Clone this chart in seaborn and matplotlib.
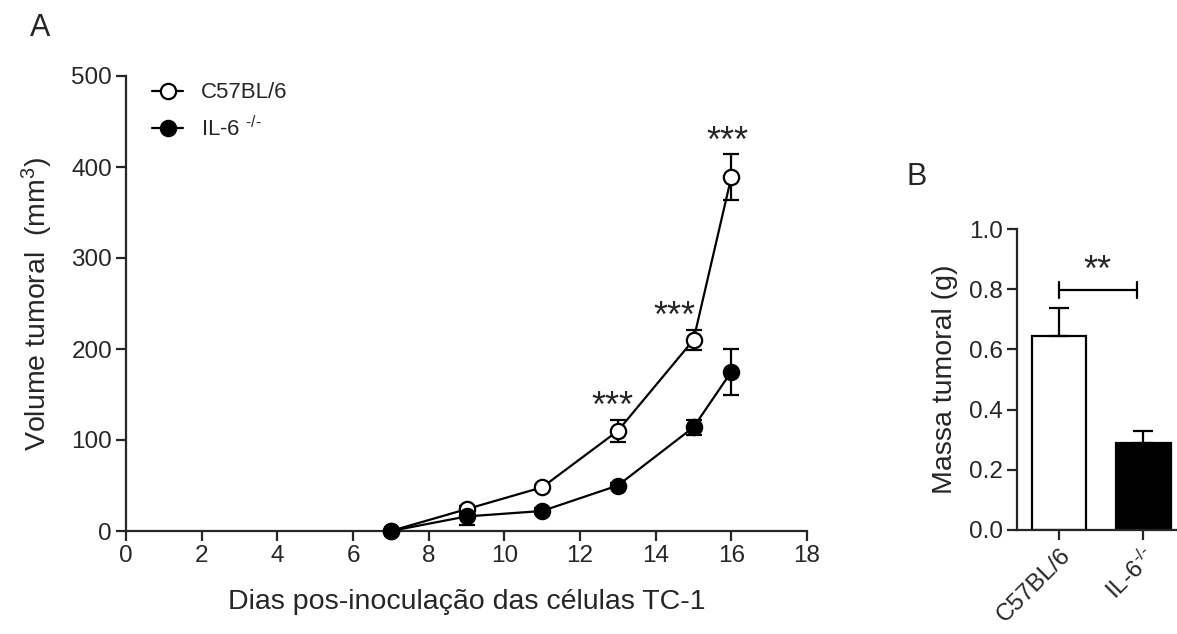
import numpy as np
import matplotlib
matplotlib.use("Agg")
import matplotlib.pyplot as plt
import seaborn as sns
import pandas as pd

# Tumour growth (panel A)
days = [7, 9, 11, 13, 15, 16]
vol_wt = [0, 24, 48, 110, 210, 389]
err_wt = [0, 4, 3, 12, 11, 25]
vol_ko = [0, 16, 22, 50, 114, 175]
err_ko = [0, 9, 3, 3, 8, 25]
sig_days = [13, 15, 16]
sig_labels = ["***", "***", "***"]

# Tumour mass (panel B)
groups = ["C57BL/6", r"IL-6$^{\text{-/-}}$"]
mass = [0.643, 0.288]
mass_err = [0.095, 0.04]

sns.set_style("ticks")
plt.rcParams["font.family"] = ["Liberation Sans", "DejaVu Sans"]
plt.rcParams["mathtext.fontset"] = "custom"
plt.rcParams["mathtext.rm"] = "Liberation Sans"
plt.rcParams["mathtext.it"] = "Liberation Sans"
plt.rcParams["axes.linewidth"] = 1.6
plt.rcParams["xtick.major.width"] = 1.6
plt.rcParams["ytick.major.width"] = 1.6
plt.rcParams["xtick.major.size"] = 7
plt.rcParams["ytick.major.size"] = 7

fig = plt.figure(figsize=(11.77, 6.34), dpi=100)
axA = fig.add_axes([126 / 1177, 1 - 531 / 634, (807 - 126) / 1177, (531 - 76) / 634])
axB = fig.add_axes([1017 / 1177, 1 - 530 / 634, (1177 - 1017) / 1177, (530 - 229) / 634])

ko_name = r"IL-6 $^{\text{-/-}}$"
df = pd.DataFrame({
    "dia": days * 2,
    "volume": vol_wt + vol_ko,
    "grupo": ["C57BL/6"] * len(days) + [ko_name] * len(days),
})

for name, vals, errs, face in [("C57BL/6", vol_wt, err_wt, "white"),
                               (ko_name, vol_ko, err_ko, "black")]:
    axA.errorbar(days, vals, yerr=errs, fmt="none", ecolor="black",
                 elinewidth=1.6, capsize=6, capthick=1.6, zorder=2, clip_on=False)
    sns.lineplot(data=df[df["grupo"] == name], x="dia", y="volume", ax=axA,
                 color="black", linewidth=1.6, marker="o", markersize=11,
                 markerfacecolor=face, markeredgecolor="black", markeredgewidth=1.6,
                 label=name, zorder=3, clip_on=False)

# stars sit slightly left of each point, as in the original
star_dx = [-0.15, -0.5, -0.1]
for d, lab, dx in zip(sig_days, sig_labels, star_dx):
    i = days.index(d)
    top = vol_wt[i] + err_wt[i]
    axA.text(d + dx, top + 3, lab, ha="center", va="baseline", fontsize=26)

axA.set_xlim(0, 18)
axA.set_ylim(0, 500)
axA.set_xticks(range(0, 19, 2))
axA.set_yticks(range(0, 501, 100))
axA.tick_params(labelsize=17.5, pad=3)
axA.set_xlabel("Dias pos-inoculação das células TC-1", fontsize=20.5, labelpad=16)
axA.set_ylabel("Volume tumoral  (mm$^3$)", fontsize=20.5, labelpad=12)
sns.despine(ax=axA)
axA.legend(loc="upper left", bbox_to_anchor=(0.009, 1.03), frameon=False,
           fontsize=16, handlelength=1.4, handletextpad=0.8, labelspacing=0.55)

# panel B
dfB = pd.DataFrame({"grupo": groups, "massa": mass})
sns.barplot(data=dfB, x="grupo", y="massa", ax=axB, palette=["white", "black"],
            hue="grupo", legend=False, edgecolor="black", linewidth=1.6, width=0.65)
axB.errorbar([0, 1], mass, yerr=[[0, 0], mass_err], fmt="none", ecolor="black",
             elinewidth=1.6, capsize=7, capthick=1.6)
axB.set_xlim(-0.5, 1.4)
axB.set_ylim(0, 1.0)
axB.set_yticks(np.arange(0, 1.01, 0.2))
axB.set_yticklabels([f"{v:.1f}" for v in np.arange(0, 1.01, 0.2)])
axB.tick_params(labelsize=17.5, pad=3)
axB.set_xticks([0, 1])
axB.set_xticklabels(groups, rotation=45, ha="right", rotation_mode="anchor")
axB.set_xlabel("")
axB.set_ylabel("Massa tumoral (g)", fontsize=20.5, labelpad=8)
sns.despine(ax=axB)
axB.plot([0, 0.92], [0.797, 0.797], color="black", lw=1.6)
axB.plot([0, 0], [0.77, 0.825], color="black", lw=1.6)
axB.plot([0.92, 0.92], [0.77, 0.825], color="black", lw=1.6)
axB.text(0.45, 0.826, "**", ha="center", va="baseline", fontsize=26)

fig.text(40 / 1177, 1 - 28 / 634, "A", fontsize=22, ha="center", va="center")
fig.text(917 / 1177, 1 - 177 / 634, "B", fontsize=22, ha="center", va="center")

fig.savefig("out.png", dpi=100)
